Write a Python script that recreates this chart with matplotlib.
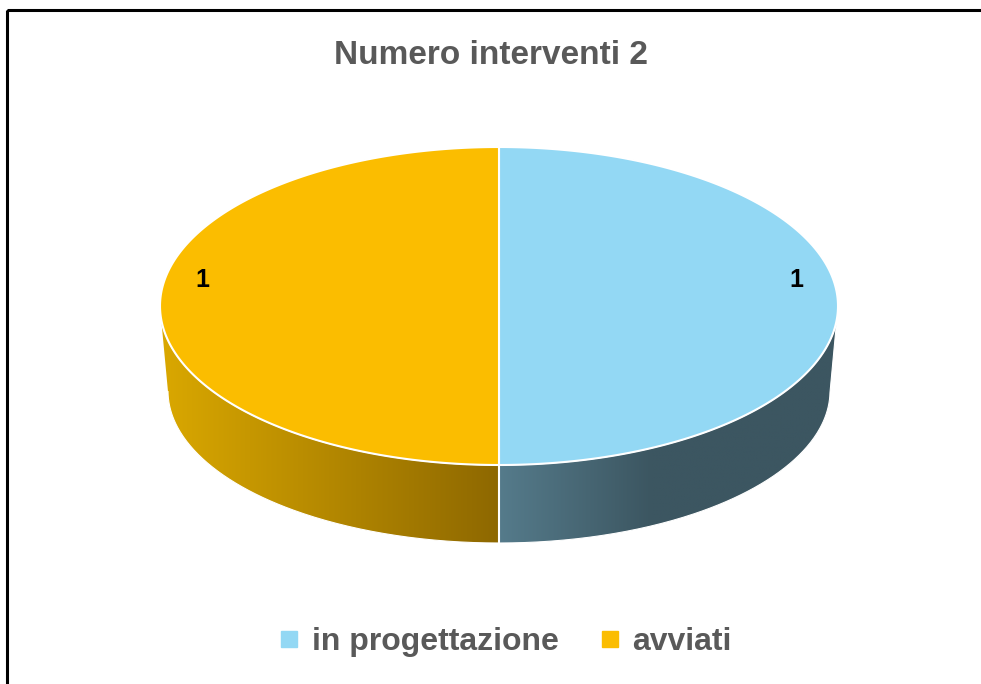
import numpy as np
import matplotlib
matplotlib.use("Agg")
from matplotlib import pyplot as plt
from matplotlib.patches import Polygon, Rectangle
from matplotlib.lines import Line2D

# Numero interventi per stato
categories = ["in progettazione", "avviati"]
values = [1, 1]
top_colors = ["#93D8F4", "#FBBD00"]
# side shading: colour at the left and right end of each wall
side_colors = [("#557B8B", "#3C5661"), ("#DAA800", "#8E6800")]

W, H = 981, 684
cx, cy = 499, 306          # centre of the top face
a, b = 339, 159            # top ellipse semi axes
cyb, ab, bb = 391, 331, 152  # bottom ellipse (slightly smaller: perspective)


def top_pt(t):
    return cx + a * np.cos(t), cy - b * np.sin(t)


def bot_pt(t):
    return cx + ab * np.cos(t), cyb - bb * np.sin(t)


def hex_rgb(h):
    h = h.lstrip("#")
    return np.array([int(h[i:i + 2], 16) / 255 for i in (0, 2, 4)])


fig = plt.figure(figsize=(W / 100, H / 100), dpi=100)
ax = fig.add_axes([0, 0, 1, 1])
ax.set_xlim(0, W)
ax.set_ylim(H, 0)
ax.axis("off")

# wedge angles, clockwise from 12 o'clock
total = float(sum(values))
angles = []
start = np.pi / 2
for v in values:
    sweep = 2 * np.pi * v / total
    angles.append((start - sweep, start))
    start -= sweep

# side walls (only the front half, sin(t) < 0, is visible)
for (t1, t2), (cl, cr) in zip(angles, side_colors):
    ts = np.linspace(t1, t2, 400)
    front = ts[np.sin(ts) < 1e-9]
    if len(front) < 2:
        continue
    xs_top, ys_top = top_pt(front)
    xs_bot, ys_bot = bot_pt(front[::-1])
    poly = np.column_stack([np.r_[xs_top, xs_bot], np.r_[ys_top, ys_bot]])
    patch = Polygon(poly, closed=True, facecolor="none", edgecolor="none")
    ax.add_patch(patch)
    x0, x1 = poly[:, 0].min(), poly[:, 0].max()
    grad = np.linspace(0, 1, 256)
    c0, c1 = hex_rgb(cl), hex_rgb(cr)
    if cl.startswith("#557"):
        grad = np.clip(grad / 0.45, 0, 1)
    img = c0[None, :] * (1 - grad[:, None]) + c1[None, :] * grad[:, None]
    im = ax.imshow(img[None, :, :], extent=[x0, x1, poly[:, 1].max(), poly[:, 1].min()],
                   aspect="auto", interpolation="bilinear", zorder=2)
    im.set_clip_path(patch)
    ax.plot(poly[:, 0], poly[:, 1], color="white", lw=0.8, zorder=3)

# divider on the front wall
xd0, yd0 = top_pt(-np.pi / 2)
xd1, yd1 = bot_pt(-np.pi / 2)
ax.plot([xd0, xd1], [yd0, yd1], color="white", lw=1.5, zorder=4)

# top face wedges
for (t1, t2), col in zip(angles, top_colors):
    ts = np.linspace(t1, t2, 300)
    xs, ys = top_pt(ts)
    poly = np.column_stack([np.r_[cx, xs], np.r_[cy, ys]])
    ax.add_patch(Polygon(poly, closed=True, facecolor=col, edgecolor="white",
                         lw=1.5, zorder=5))

# data labels
for (t1, t2), v in zip(angles, values):
    tm = (t1 + t2) / 2
    lx = cx + 0.876 * a * np.cos(tm)
    ly = cy - 0.876 * b * np.sin(tm) - 26
    ax.text(lx, ly, str(v), ha="center", va="center", fontsize=18,
            fontweight="bold", color="black", family=["Liberation Sans", "DejaVu Sans"],
            zorder=6)

ax.text(W / 2, 55, "Numero interventi 2", ha="center", va="center", fontsize=24,
        fontweight="bold", color="#595959",
        family=["Liberation Sans Narrow", "Liberation Sans", "DejaVu Sans"])

handles = [Line2D([], [], marker="s", linestyle="none", markersize=12,
                  markerfacecolor=c, markeredgecolor=c) for c in top_colors]
fig.legend(handles, categories, loc="center", bbox_to_anchor=(0.5 + 12 / W, 1 - 642 / H),
           ncol=2, frameon=False, handletextpad=0.2, columnspacing=1.1,
           handlelength=1.0,
           prop={"family": ["Liberation Sans", "DejaVu Sans"], "weight": "bold", "size": 23},
           labelcolor="#595959")

# chart border (runs off the right and bottom edge)
ax.add_patch(Rectangle((7, 10), W + 20, H + 20, fill=False, edgecolor="black", lw=2.2, zorder=7))

fig.savefig("out.png", dpi=100)
